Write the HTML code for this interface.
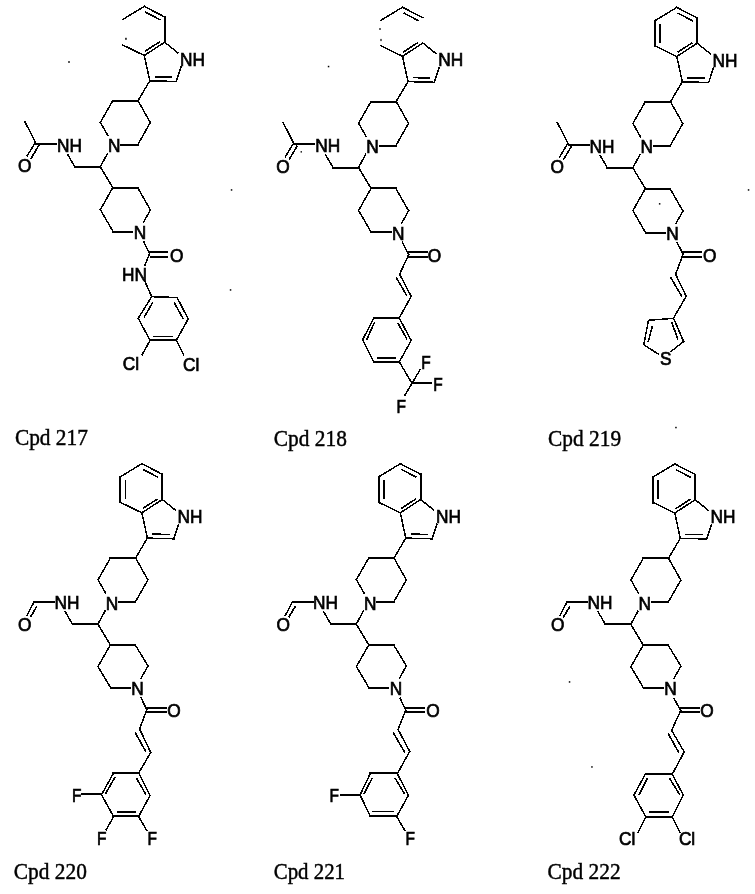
<!DOCTYPE html><html><head><meta charset="utf-8"><style>html,body{margin:0;padding:0;background:#fff;}svg{display:block;filter:grayscale(1)}</style></head><body>
<svg width="755" height="894" viewBox="0 0 755 894">
<rect width="755" height="894" fill="#fff"/>
<path d="M164.7 17.0L164.7 42.2M138.0 100.7L112.8 100.7M121.3 144.9L137.7 144.9M100.3 166.8L74.9 166.8M36.1 143.6L56.0 143.6M112.8 187.6L137.6 187.6M132.3 231.6L113.0 231.6M149.5 252.3L167.0 252.3M150.5 256.6L167.0 256.6M150.1 340.4L176.3 340.4M396.2 101.5L371.0 101.5M379.5 145.7L395.9 145.7M358.5 167.6L333.1 167.6M294.3 144.4L314.2 144.4M371.0 188.4L395.8 188.4M390.5 232.4L371.2 232.4M408.7 252.3L426.8 252.3M409.3 256.7L426.8 256.7M399.3 318.2L373.8 318.2M373.8 361.9L399.3 361.9M412.0 383.3L431.0 383.0M697.2 18.0L697.2 43.2M655.2 46.0L655.2 20.5M670.5 101.7L645.3 101.7M653.8 145.9L670.2 145.9M632.8 167.8L607.4 167.8M568.6 144.6L588.5 144.6M645.3 188.6L670.1 188.6M664.8 232.6L645.5 232.6M683.2 252.2L700.8 252.2M683.8 256.5L700.8 256.5M162.3 474.3L162.3 499.5M120.3 502.3L120.3 476.8M135.6 558.0L110.4 558.0M118.9 602.2L135.3 602.2M97.9 624.1L72.5 624.1M34.2 601.5L54.1 601.5M110.4 644.9L135.2 644.9M129.9 687.9L110.6 687.9M146.7 708.1L165.8 708.1M147.3 712.0L165.8 712.0M138.8 773.3L113.4 773.3M113.4 816.2L138.8 816.2M81.7 794.1L101.2 794.1M420.7 474.3L420.7 499.5M378.7 502.3L378.7 476.8M394.0 558.0L368.8 558.0M377.3 602.2L393.7 602.2M356.3 624.1L330.9 624.1M292.6 601.5L312.5 601.5M368.8 644.9L393.6 644.9M388.3 687.9L369.0 687.9M405.7 708.1L423.8 708.1M406.3 712.0L423.8 712.0M397.0 773.2L370.4 773.2M370.4 816.0L397.0 816.0M341.0 795.1L360.0 795.1M695.2 474.5L695.2 499.7M653.2 502.5L653.2 477.0M668.5 558.2L643.3 558.2M651.8 602.4L668.2 602.4M630.8 624.3L605.4 624.3M567.1 601.7L587.0 601.7M643.3 645.1L668.1 645.1M662.8 688.1L643.5 688.1M680.7 708.1L698.8 708.1M681.3 712.4L698.8 712.4M671.9 773.6L645.7 773.6M645.7 816.6L672.3 816.6" stroke="#000" stroke-width="2.0" fill="none" stroke-linecap="square" shape-rendering="crispEdges"/>
<path d="M144.3 6.4L164.7 17.0M164.7 42.2L144.3 55.5M144.3 55.5L122.7 45.0M122.7 19.5L144.3 6.4M144.3 55.5L149.8 80.8M149.8 80.8L176.2 81.5M176.2 81.5L180.9 67.0M164.7 42.2L177.8 52.8M149.8 80.8L138.0 100.7M112.8 100.7L100.4 122.4M100.4 122.4L108.0 135.8M137.7 144.8L150.3 122.6M150.3 122.6L138.0 100.7M107.5 153.6L100.3 166.8M74.9 166.8L67.6 154.4M36.1 143.6L24.8 121.5M34.9 143.2L27.2 155.8M100.3 166.8L112.8 187.6M137.6 187.6L150.4 210.0M150.4 210.0L143.5 222.4M113.0 231.5L100.4 209.7M100.4 209.7L112.8 187.6M144.0 242.1L149.5 253.6M149.5 253.6L144.9 265.3M145.0 281.6L151.7 296.7M177.1 297.5L151.7 296.7M151.7 296.7L138.2 318.2M138.2 318.2L150.1 340.4M176.3 340.4L188.2 319.0M188.2 319.0L177.1 297.5M150.1 340.4L142.1 354.7M176.3 340.4L183.5 354.7M402.5 7.2L422.9 17.8M422.9 43.0L402.5 56.3M402.5 56.3L380.9 45.8M380.9 20.3L402.5 7.2M402.5 56.3L408.0 81.6M408.0 81.6L434.4 82.3M434.4 82.3L439.1 67.8M422.9 43.0L436.0 53.6M408.0 81.6L396.2 101.5M371.0 101.5L358.6 123.2M358.6 123.2L366.2 136.6M395.9 145.6L408.5 123.4M408.5 123.4L396.2 101.5M365.7 154.4L358.5 167.6M333.1 167.6L325.8 155.2M294.3 144.4L283.0 122.3M293.1 144.0L285.4 156.6M358.5 167.6L371.0 188.4M395.8 188.4L408.6 210.8M408.6 210.8L401.7 223.2M371.2 232.3L358.6 210.5M358.6 210.5L371.0 188.4M402.2 242.0L408.7 254.6M408.7 254.6L399.6 274.2M399.6 274.2L411.2 296.4M411.2 296.4L399.2 318.0M373.8 318.2L362.7 339.6M362.7 339.6L373.8 361.9M399.3 361.9L411.2 340.4M411.2 340.4L399.3 318.2M399.3 361.9L412.0 383.3M412.0 383.3L420.0 369.8M412.0 383.3L404.8 395.3M676.8 7.4L697.2 18.0M697.2 43.2L676.8 56.5M676.8 56.5L655.2 46.0M655.2 20.5L676.8 7.4M676.8 56.5L682.3 81.8M682.3 81.8L708.7 82.5M708.7 82.5L713.4 68.0M697.2 43.2L710.3 53.8M682.3 81.8L670.5 101.7M645.3 101.7L632.9 123.4M632.9 123.4L640.5 136.8M670.2 145.8L682.8 123.6M682.8 123.6L670.5 101.7M640.0 154.6L632.8 167.8M607.4 167.8L600.1 155.4M568.6 144.6L557.3 122.5M567.4 144.2L559.7 156.8M632.8 167.8L645.3 188.6M670.1 188.6L682.9 211.0M682.9 211.0L676.0 223.4M645.5 232.5L632.9 210.7M632.9 210.7L645.3 188.6M677.2 242.8L683.2 254.1M683.2 254.1L675.6 274.2M675.6 274.2L686.2 296.4M686.2 296.4L673.6 318.0M673.6 318.3L648.5 320.3M648.5 320.3L643.8 344.5M643.8 344.8L658.4 354.1M671.0 351.5L683.6 341.5M683.6 341.5L673.6 318.3M141.9 463.7L162.3 474.3M162.3 499.5L141.9 512.8M141.9 512.8L120.3 502.3M120.3 476.8L141.9 463.7M141.9 512.8L147.4 538.1M147.4 538.1L173.8 538.8M173.8 538.8L178.5 524.3M162.3 499.5L175.4 510.1M147.4 538.1L135.6 558.0M110.4 558.0L98.0 579.7M98.0 579.7L105.6 593.1M135.3 602.1L147.9 579.9M147.9 579.9L135.6 558.0M105.1 610.9L97.9 624.1M72.5 624.1L65.2 611.7M34.2 601.7L27.0 615.2M97.9 624.1L110.4 644.9M135.2 644.9L148.0 665.9M148.0 665.9L141.1 678.1M110.6 687.8L98.0 666.5M98.0 666.5L110.4 644.9M141.1 697.6L146.7 709.9M146.7 709.9L139.6 729.0M139.6 729.0L150.7 752.4M150.7 752.4L138.6 773.2M113.4 773.3L101.5 794.7M101.5 794.7L113.4 816.2M138.8 816.2L150.0 795.5M150.0 795.5L138.8 773.3M113.4 817.0L106.2 829.7M138.8 817.0L146.8 830.5M400.3 463.7L420.7 474.3M420.7 499.5L400.3 512.8M400.3 512.8L378.7 502.3M378.7 476.8L400.3 463.7M400.3 512.8L405.8 538.1M405.8 538.1L432.2 538.8M432.2 538.8L436.9 524.3M420.7 499.5L433.8 510.1M405.8 538.1L394.0 558.0M368.8 558.0L356.4 579.7M356.4 579.7L364.0 593.1M393.7 602.1L406.3 579.9M406.3 579.9L394.0 558.0M363.5 610.9L356.3 624.1M330.9 624.1L323.6 611.7M292.6 601.7L285.4 615.2M356.3 624.1L368.8 644.9M393.6 644.9L406.4 665.9M406.4 665.9L399.5 678.1M369.0 687.8L356.4 666.5M356.4 666.5L368.8 644.9M400.1 698.1L405.7 710.1M405.7 710.1L398.1 729.5M398.1 729.5L409.7 751.4M409.7 751.4L397.6 773.2M370.4 773.2L360.0 795.1M360.0 795.1L370.4 816.0M397.0 816.0L408.5 795.1M408.5 795.1L397.0 773.2M397.0 817.0L404.7 830.3M674.8 463.9L695.2 474.5M695.2 499.7L674.8 513.0M674.8 513.0L653.2 502.5M653.2 477.0L674.8 463.9M674.8 513.0L680.3 538.3M680.3 538.3L706.7 539.0M706.7 539.0L711.4 524.5M695.2 499.7L708.3 510.3M680.3 538.3L668.5 558.2M643.3 558.2L630.9 579.9M630.9 579.9L638.5 593.3M668.2 602.3L680.8 580.1M680.8 580.1L668.5 558.2M638.0 611.1L630.8 624.3M605.4 624.3L598.1 611.9M567.1 601.9L559.9 615.4M630.8 624.3L643.3 645.1M668.1 645.1L680.9 666.1M680.9 666.1L674.0 678.3M643.5 688.0L630.9 666.7M630.9 666.7L643.3 645.1M674.1 698.6L680.7 710.6M680.7 710.6L671.6 730.3M671.6 730.3L684.2 751.9M684.2 751.9L672.6 773.6M645.7 773.6L633.9 795.1M633.9 795.1L645.7 816.6M672.3 816.6L683.3 795.1M683.3 795.1L671.9 773.6M645.7 817.0L638.0 832.2M672.3 817.0L679.9 832.2" stroke="#000" stroke-width="1.5" fill="none" stroke-linecap="square" shape-rendering="crispEdges"/>
<path d="M145.2 12.0L160.5 20.0M145.0 51.3L160.0 41.6M154.6 76.8L172.2 77.2M39.1 144.9L30.9 158.8M152.8 302.3L143.9 317.6M173.9 302.3L183.3 318.8M153.3 336.4L173.1 336.4M403.4 12.8L418.7 20.8M403.2 52.1L418.2 42.4M412.8 77.6L430.4 78.0M297.3 145.7L289.1 159.6M396.1 277.3L406.7 295.4M374.6 322.1L366.7 339.6M397.7 322.9L407.2 339.6M377.0 357.9L396.1 357.9M677.7 13.0L693.0 21.0M677.5 52.3L692.5 42.6M660.2 23.8L660.2 42.9M687.1 77.8L704.7 78.2M571.6 145.9L563.4 159.8M670.6 277.3L681.7 296.4M652.5 325.6L648.1 342.2M671.7 322.3L678.0 339.5M142.8 469.3L158.1 477.3M142.6 508.6L157.6 498.9M125.3 480.1L125.3 499.2M152.2 534.1L169.8 534.5M36.9 606.3L30.4 617.2M135.1 732.3L145.7 751.4M115.0 777.2L105.4 793.9M136.4 778.0L146.0 794.7M116.6 811.9L135.6 811.9M401.2 469.3L416.5 477.3M401.0 508.6L416.0 498.9M383.7 480.1L383.7 499.2M410.6 534.1L428.2 534.5M295.3 606.3L288.8 617.2M393.1 732.3L404.7 752.4M372.3 778.0L363.8 794.1M395.1 778.0L404.6 794.1M372.3 811.3L394.2 811.3M675.7 469.5L691.0 477.5M675.5 508.8L690.5 499.1M658.2 480.3L658.2 499.4M685.1 534.3L702.7 534.7M569.8 606.5L563.3 617.4M668.1 733.3L678.7 752.4M647.6 778.0L639.0 795.1M669.4 778.0L679.9 795.1M648.5 812.2L668.5 812.2" stroke="#000" stroke-width="1.6" fill="none" stroke-linecap="butt" shape-rendering="crispEdges"/>
<text transform="translate(180.0 65.6) scale(0.96 1)" font-family="Liberation Sans" font-size="18" fill="#000" stroke="#000" stroke-width="0.7">NH</text>
<text transform="translate(108.1 152.4) scale(0.96 1)" font-family="Liberation Sans" font-size="18" fill="#000" stroke="#000" stroke-width="0.7">N</text>
<text transform="translate(57.0 151.5) scale(0.96 1)" font-family="Liberation Sans" font-size="18" fill="#000" stroke="#000" stroke-width="0.7">NH</text>
<text transform="translate(18.0 172.3) scale(0.96 1)" font-family="Liberation Sans" font-size="18" fill="#000" stroke="#000" stroke-width="0.7">O</text>
<text transform="translate(133.7 239.4) scale(0.96 1)" font-family="Liberation Sans" font-size="18" fill="#000" stroke="#000" stroke-width="0.7">N</text>
<text transform="translate(170.0 261.7) scale(0.96 1)" font-family="Liberation Sans" font-size="18" fill="#000" stroke="#000" stroke-width="0.7">O</text>
<text transform="translate(122.0 281.0) scale(0.96 1)" font-family="Liberation Sans" font-size="18" fill="#000" stroke="#000" stroke-width="0.7">HN</text>
<text transform="translate(122.8 370.2) scale(0.96 1)" font-family="Liberation Sans" font-size="18" fill="#000" stroke="#000" stroke-width="0.7">Cl</text>
<text transform="translate(183.0 370.6) scale(0.96 1)" font-family="Liberation Sans" font-size="18" fill="#000" stroke="#000" stroke-width="0.7">Cl</text>
<text transform="translate(14.9 444.9) scale(0.95 1)" font-family="Liberation Serif" font-size="22.5" fill="#000" stroke="#000" stroke-width="0.45">Cpd 217</text>
<text transform="translate(438.2 66.4) scale(0.96 1)" font-family="Liberation Sans" font-size="18" fill="#000" stroke="#000" stroke-width="0.7">NH</text>
<text transform="translate(366.3 153.2) scale(0.96 1)" font-family="Liberation Sans" font-size="18" fill="#000" stroke="#000" stroke-width="0.7">N</text>
<text transform="translate(315.2 152.3) scale(0.96 1)" font-family="Liberation Sans" font-size="18" fill="#000" stroke="#000" stroke-width="0.7">NH</text>
<text transform="translate(276.2 173.1) scale(0.96 1)" font-family="Liberation Sans" font-size="18" fill="#000" stroke="#000" stroke-width="0.7">O</text>
<text transform="translate(391.9 240.2) scale(0.96 1)" font-family="Liberation Sans" font-size="18" fill="#000" stroke="#000" stroke-width="0.7">N</text>
<text transform="translate(427.8 261.6) scale(0.96 1)" font-family="Liberation Sans" font-size="18" fill="#000" stroke="#000" stroke-width="0.7">O</text>
<text transform="translate(421.3 368.6) scale(0.86 1)" font-family="Liberation Sans" font-size="18" fill="#000" stroke="#000" stroke-width="0.7">F</text>
<text transform="translate(433.3 390.8) scale(0.86 1)" font-family="Liberation Sans" font-size="18" fill="#000" stroke="#000" stroke-width="0.7">F</text>
<text transform="translate(396.4 413.0) scale(0.86 1)" font-family="Liberation Sans" font-size="18" fill="#000" stroke="#000" stroke-width="0.7">F</text>
<text transform="translate(273.8 445.6) scale(0.95 1)" font-family="Liberation Serif" font-size="22.5" fill="#000" stroke="#000" stroke-width="0.45">Cpd 218</text>
<text transform="translate(712.5 66.6) scale(0.96 1)" font-family="Liberation Sans" font-size="18" fill="#000" stroke="#000" stroke-width="0.7">NH</text>
<text transform="translate(640.6 153.4) scale(0.96 1)" font-family="Liberation Sans" font-size="18" fill="#000" stroke="#000" stroke-width="0.7">N</text>
<text transform="translate(589.5 152.5) scale(0.96 1)" font-family="Liberation Sans" font-size="18" fill="#000" stroke="#000" stroke-width="0.7">NH</text>
<text transform="translate(550.5 173.3) scale(0.96 1)" font-family="Liberation Sans" font-size="18" fill="#000" stroke="#000" stroke-width="0.7">O</text>
<text transform="translate(666.2 240.4) scale(0.96 1)" font-family="Liberation Sans" font-size="18" fill="#000" stroke="#000" stroke-width="0.7">N</text>
<text transform="translate(703.1 262.4) scale(0.96 1)" font-family="Liberation Sans" font-size="18" fill="#000" stroke="#000" stroke-width="0.7">O</text>
<text transform="translate(660.0 364.6) scale(0.96 1)" font-family="Liberation Sans" font-size="18" fill="#000" stroke="#000" stroke-width="0.7">S</text>
<text transform="translate(548.1 445.6) scale(0.95 1)" font-family="Liberation Serif" font-size="22.5" fill="#000" stroke="#000" stroke-width="0.45">Cpd 219</text>
<text transform="translate(177.6 522.9) scale(0.96 1)" font-family="Liberation Sans" font-size="18" fill="#000" stroke="#000" stroke-width="0.7">NH</text>
<text transform="translate(105.7 609.7) scale(0.96 1)" font-family="Liberation Sans" font-size="18" fill="#000" stroke="#000" stroke-width="0.7">N</text>
<text transform="translate(54.6 608.8) scale(0.96 1)" font-family="Liberation Sans" font-size="18" fill="#000" stroke="#000" stroke-width="0.7">NH</text>
<text transform="translate(18.0 631.0) scale(0.96 1)" font-family="Liberation Sans" font-size="18" fill="#000" stroke="#000" stroke-width="0.7">O</text>
<text transform="translate(131.3 695.1) scale(0.96 1)" font-family="Liberation Sans" font-size="18" fill="#000" stroke="#000" stroke-width="0.7">N</text>
<text transform="translate(167.3 717.3) scale(0.96 1)" font-family="Liberation Sans" font-size="18" fill="#000" stroke="#000" stroke-width="0.7">O</text>
<text transform="translate(72.0 801.6) scale(0.86 1)" font-family="Liberation Sans" font-size="18" fill="#000" stroke="#000" stroke-width="0.7">F</text>
<text transform="translate(97.0 845.2) scale(0.86 1)" font-family="Liberation Sans" font-size="18" fill="#000" stroke="#000" stroke-width="0.7">F</text>
<text transform="translate(147.5 845.2) scale(0.86 1)" font-family="Liberation Sans" font-size="18" fill="#000" stroke="#000" stroke-width="0.7">F</text>
<text transform="translate(13.8 878.8) scale(0.95 1)" font-family="Liberation Serif" font-size="22.5" fill="#000" stroke="#000" stroke-width="0.45">Cpd 220</text>
<text transform="translate(436.0 522.9) scale(0.96 1)" font-family="Liberation Sans" font-size="18" fill="#000" stroke="#000" stroke-width="0.7">NH</text>
<text transform="translate(364.1 609.7) scale(0.96 1)" font-family="Liberation Sans" font-size="18" fill="#000" stroke="#000" stroke-width="0.7">N</text>
<text transform="translate(313.0 608.8) scale(0.96 1)" font-family="Liberation Sans" font-size="18" fill="#000" stroke="#000" stroke-width="0.7">NH</text>
<text transform="translate(276.4 631.0) scale(0.96 1)" font-family="Liberation Sans" font-size="18" fill="#000" stroke="#000" stroke-width="0.7">O</text>
<text transform="translate(389.7 695.1) scale(0.96 1)" font-family="Liberation Sans" font-size="18" fill="#000" stroke="#000" stroke-width="0.7">N</text>
<text transform="translate(426.3 717.3) scale(0.96 1)" font-family="Liberation Sans" font-size="18" fill="#000" stroke="#000" stroke-width="0.7">O</text>
<text transform="translate(329.5 802.4) scale(0.86 1)" font-family="Liberation Sans" font-size="18" fill="#000" stroke="#000" stroke-width="0.7">F</text>
<text transform="translate(405.5 845.2) scale(0.86 1)" font-family="Liberation Sans" font-size="18" fill="#000" stroke="#000" stroke-width="0.7">F</text>
<text transform="translate(273.8 878.9) scale(0.926 1)" font-family="Liberation Serif" font-size="22.5" fill="#000" stroke="#000" stroke-width="0.45">Cpd 221</text>
<text transform="translate(710.5 523.1) scale(0.96 1)" font-family="Liberation Sans" font-size="18" fill="#000" stroke="#000" stroke-width="0.7">NH</text>
<text transform="translate(638.6 609.9) scale(0.96 1)" font-family="Liberation Sans" font-size="18" fill="#000" stroke="#000" stroke-width="0.7">N</text>
<text transform="translate(587.5 609.0) scale(0.96 1)" font-family="Liberation Sans" font-size="18" fill="#000" stroke="#000" stroke-width="0.7">NH</text>
<text transform="translate(550.9 631.2) scale(0.96 1)" font-family="Liberation Sans" font-size="18" fill="#000" stroke="#000" stroke-width="0.7">O</text>
<text transform="translate(664.2 695.3) scale(0.96 1)" font-family="Liberation Sans" font-size="18" fill="#000" stroke="#000" stroke-width="0.7">N</text>
<text transform="translate(700.3 717.3) scale(0.96 1)" font-family="Liberation Sans" font-size="18" fill="#000" stroke="#000" stroke-width="0.7">O</text>
<text transform="translate(619.0 845.2) scale(0.96 1)" font-family="Liberation Sans" font-size="18" fill="#000" stroke="#000" stroke-width="0.7">Cl</text>
<text transform="translate(678.9 845.2) scale(0.96 1)" font-family="Liberation Sans" font-size="18" fill="#000" stroke="#000" stroke-width="0.7">Cl</text>
<text transform="translate(547.6 878.9) scale(0.95 1)" font-family="Liberation Serif" font-size="22.5" fill="#000" stroke="#000" stroke-width="0.45">Cpd 222</text>
<rect x="68.2" y="61.2" width="1.6" height="1.6" fill="#000"/>
<rect x="230.8" y="189.2" width="1.5" height="1.5" fill="#000"/>
<rect x="229.8" y="289.2" width="1.5" height="1.5" fill="#000"/>
<rect x="327.8" y="65.8" width="1.5" height="1.5" fill="#000"/>
<rect x="300.6" y="151.1" width="1.3" height="1.5" fill="#000"/>
<rect x="747.8" y="189.2" width="1.5" height="1.5" fill="#000"/>
<rect x="658.9" y="203.1" width="1.5" height="1.5" fill="#000"/>
<rect x="675.2" y="426.8" width="1.5" height="1.5" fill="#000"/>
<rect x="568.8" y="681.2" width="1.5" height="1.5" fill="#000"/>
<rect x="591.2" y="766.2" width="1.5" height="1.5" fill="#000"/>
<rect x="125.2" y="37.8" width="1.5" height="2.0" fill="#000"/>
<rect x="379.4" y="28.0" width="1.2" height="2.0" fill="#000"/>
<rect x="380.4" y="38.9" width="1.2" height="2.2" fill="#000"/>
</svg></body></html>
